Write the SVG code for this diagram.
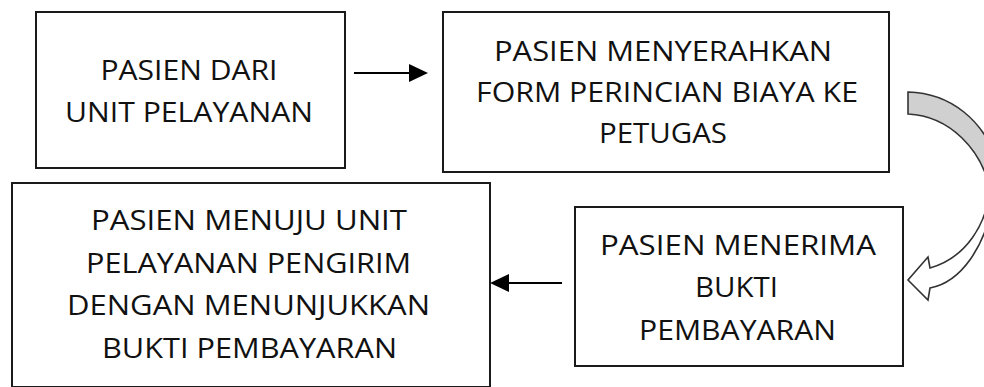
<svg xmlns="http://www.w3.org/2000/svg" width="984" height="387" viewBox="0 0 984 387">
<style>
.box{fill:#fff;stroke:#1a1a1a;stroke-width:2}
.t{font-family:"Open Sans","Noto Sans","Liberation Sans",sans-serif;font-size:28px;fill:#111;text-anchor:middle}
.ln{stroke:#000;stroke-width:2;fill:none}
.ah{fill:#000}
.curve{stroke:#333;stroke-width:1.6;stroke-linejoin:miter}
</style>
<rect width="984" height="387" fill="#fff"/>
<g id="node1">
<rect class="box" x="36" y="12" width="309" height="156"/>
<text class="t" x="189" y="80" textLength="177" lengthAdjust="spacingAndGlyphs">PASIEN DARI</text>
<text class="t" x="189" y="122" textLength="248" lengthAdjust="spacingAndGlyphs">UNIT PELAYANAN</text>
</g>
<g id="node2">
<rect class="box" x="443" y="12" width="446" height="160"/>
<text class="t" x="663" y="61" textLength="338" lengthAdjust="spacingAndGlyphs">PASIEN MENYERAHKAN</text>
<text class="t" x="667" y="102" textLength="382" lengthAdjust="spacingAndGlyphs">FORM PERINCIAN BIAYA KE</text>
<text class="t" x="663" y="143" textLength="128" lengthAdjust="spacingAndGlyphs">PETUGAS</text>
</g>
<g id="node3">
<rect class="box" x="12" y="183" width="478" height="204"/>
<text class="t" x="249" y="230" textLength="316" lengthAdjust="spacingAndGlyphs">PASIEN MENUJU UNIT</text>
<text class="t" x="248.5" y="273" textLength="325" lengthAdjust="spacingAndGlyphs">PELAYANAN PENGIRIM</text>
<text class="t" x="248.5" y="315" textLength="363" lengthAdjust="spacingAndGlyphs">DENGAN MENUNJUKKAN</text>
<text class="t" x="249.5" y="358" textLength="295" lengthAdjust="spacingAndGlyphs">BUKTI PEMBAYARAN</text>
</g>
<g id="node4">
<rect class="box" x="575" y="207" width="328" height="159"/>
<text class="t" x="738" y="255" textLength="276" lengthAdjust="spacingAndGlyphs">PASIEN MENERIMA</text>
<text class="t" x="736.5" y="297" textLength="83" lengthAdjust="spacingAndGlyphs">BUKTI</text>
<text class="t" x="737.5" y="340" textLength="197" lengthAdjust="spacingAndGlyphs">PEMBAYARAN</text>
</g>
<g id="connectors">
<line class="ln" x1="354" y1="73" x2="412" y2="73"/>
<polygon class="ah" points="428,73 409,64 409,82"/>
<line class="ln" x1="562" y1="283" x2="505" y2="283"/>
<polygon class="ah" points="490,283 509,274 509,292"/>
<path class="curve" fill="#d0d0d0" d="M908,92 C950,93 985,120 998,165 L990,190 C982,150 950,116 908,114 Z"/>
<path class="curve" fill="#fff" d="M990,185 C988,225 965,258 930,268 L928,257 L908,280 L928,300 L930,288 C962,282 985,245 992,205 Z"/>
</g>
</svg>
